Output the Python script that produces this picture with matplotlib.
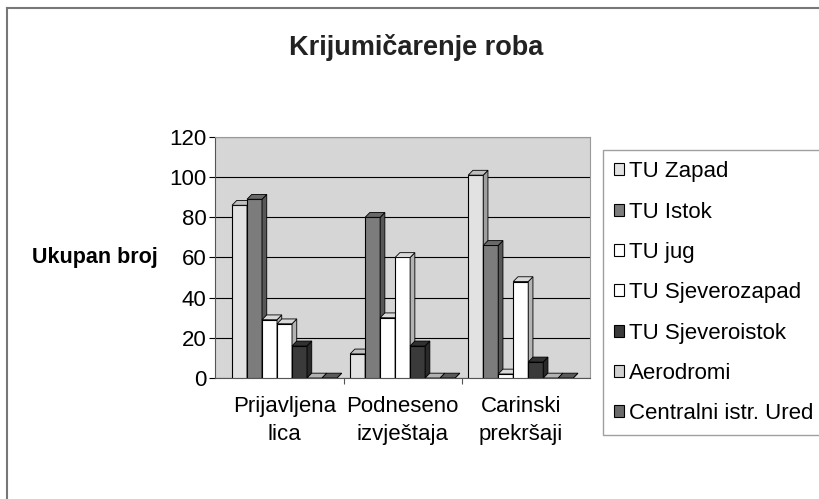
import numpy as np
import matplotlib
matplotlib.use("Agg")
from matplotlib import pyplot as plt
from matplotlib.patches import Polygon, Patch
from matplotlib.lines import Line2D

plt.rcParams['font.family'] = ['Liberation Sans', 'DejaVu Sans']

#======================Data==========================

categories = ["Prijavljena\nlica", "Podneseno\nizvještaja", "Carinski\nprekršaji"]
series = ["TU Zapad", "TU Istok", "TU jug", "TU Sjeverozapad",
          "TU Sjeveroistok", "Aerodromi", "Centralni istr. Ured"]

tu_zapad = [86, 12, 101]
tu_istok = [89, 80, 66]
tu_jug = [29, 30, 2]
tu_sjeverozapad = [27, 60, 48]
tu_sjeveroistok = [16, 16, 8]
aerodromi = [0, 0, 0]
centralni = [0, 0, 0]

values = [tu_zapad, tu_istok, tu_jug, tu_sjeverozapad,
          tu_sjeveroistok, aerodromi, centralni]

face_colors = ["#e2e2e2", "#7c7c7c", "#ffffff", "#ffffff",
               "#3a3a3a", "#d0d0d0", "#6a6a6a"]

#======================Plot==========================

fig = plt.figure(figsize=(8.2, 4.99), dpi=100)
ax = fig.add_axes([0.262, 0.2425, 0.458, 0.483])
ax.set_facecolor("#d6d6d6")

x = np.arange(len(categories))
w = 0.127
dx, dy = 0.04, 2.4  # fake 3D depth


def shade(c, f):
    rgb = np.array(matplotlib.colors.to_rgb(c))
    return tuple(rgb * f)


for i, (vals, col) in enumerate(zip(values, face_colors)):
    xs = x - 3 * w + i * w
    ax.bar(xs, vals, width=w, color=col, edgecolor="black", linewidth=0.8, zorder=3)
    for xc, h in zip(xs, vals):
        side = Polygon([(xc + w / 2, 0), (xc + w / 2 + dx, dy),
                        (xc + w / 2 + dx, h + dy), (xc + w / 2, h)],
                       closed=True, facecolor=shade(col, 0.7),
                       edgecolor="black", linewidth=0.6, zorder=3)
        top = Polygon([(xc - w / 2, h), (xc + w / 2, h),
                       (xc + w / 2 + dx, h + dy), (xc - w / 2 + dx, h + dy)],
                      closed=True, facecolor=shade(col, 0.85),
                      edgecolor="black", linewidth=0.6, zorder=3)
        ax.add_patch(side)
        ax.add_patch(top)

ax.set_xlim(-0.59, 2.59)
ax.set_ylim(0, 120)
ax.set_yticks(range(0, 121, 20))
ax.yaxis.grid(True, color="black", linewidth=0.8, zorder=0)
ax.set_axisbelow(True)

ax.set_xticks([0.5, 1.5])
ax.set_xticklabels([])
ax.tick_params(axis="x", length=4, color="#555555")
for xc, lab in zip(x, categories):
    ax.text(xc, -9, lab, ha="center", va="top", fontsize=16,
            transform=ax.transData, linespacing=1.45)

ax.tick_params(axis="y", labelsize=16, length=4, pad=2)
for s in ["top", "right"]:
    ax.spines[s].set_color("#999999")
ax.spines["left"].set_color("#555555")
ax.spines["bottom"].set_color("#555555")

ax.set_ylabel("Ukupan broj", fontsize=15.5, fontweight="bold",
              rotation=0, ha="center", va="center", labelpad=0)
ax.yaxis.set_label_coords(-0.32, 0.5)

fig.text(0.508, 0.905, "Krijumičarenje roba", ha="center", va="center",
         fontsize=19.5, fontweight="bold", color="#222222")

handles = [Patch(facecolor=c, edgecolor="black", linewidth=0.8) for c in face_colors]
leg = fig.legend(handles, series, loc="upper left",
                 bbox_to_anchor=(0.735, 0.699), fontsize=16,
                 frameon=True, fancybox=False, edgecolor="#888888",
                 handlelength=0.45, handleheight=0.45, handletextpad=0.25,
                 labelspacing=0.87, borderpad=0.5, borderaxespad=0)

# chart frame (left and top edges)
fig.add_artist(Line2D([0.009, 0.009], [0.0, 0.984], color="#777777", linewidth=1.5))
fig.add_artist(Line2D([0.009, 1.0], [0.984, 0.984], color="#777777", linewidth=1.5))

fig.savefig("out.png", dpi=100)
